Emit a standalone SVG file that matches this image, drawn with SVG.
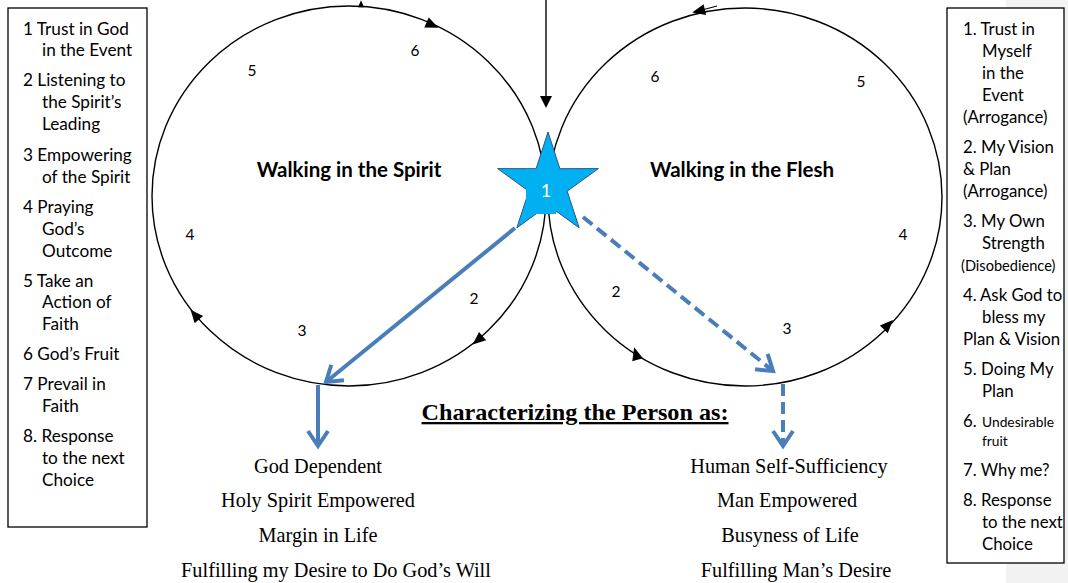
<svg xmlns="http://www.w3.org/2000/svg" xmlns:xlink="http://www.w3.org/1999/xlink" width="1068" height="583" viewBox="0 0 1068 583">
<style>
.box{fill:#fff;stroke:#000;stroke-width:1.3}
.lt{font-family:Lato,"Open Sans",sans-serif;font-size:17.2px;fill:#000}
.rt{font-size:16.8px}
.sm{font-size:14.6px}
.xs{font-size:13.8px}
.num{font-family:Lato,"Open Sans",sans-serif;font-size:15.5px;fill:#000;text-anchor:middle}
.ttl{font-family:Lato,"Open Sans",sans-serif;font-size:20.5px;font-weight:bold;fill:#000;text-anchor:middle}
.cyc{fill:none;stroke:#000;stroke-width:1.4}
.tr{font-family:"Liberation Serif","Times New Roman",serif;font-size:20.3px;fill:#000;text-anchor:middle}
.blue{fill:none;stroke:#4A7EBB;stroke-width:4}
.dash{stroke-dasharray:12 6}
</style>
<defs>
<path id="tri" d="M7,0 L-6,-5.5 L-6,5.5 Z" fill="#000"/>
<marker id="chev" markerUnits="userSpaceOnUse" orient="auto" refX="0" refY="0" markerWidth="40" markerHeight="40" overflow="visible">
<path d="M-15,-10 L0,0 L-15,10" fill="none" stroke="#4A7EBB" stroke-width="4"/>
</marker>
</defs>
<rect x="1006" y="0" width="62" height="583" fill="#F2F2F2"/>
<g id="spirit-legend">
<rect class="box" x="8" y="8" width="139" height="519"/>
<text class="lt">
<tspan x="23" y="35">1 Trust in God</tspan>
<tspan x="42" y="56">in the Event</tspan>
<tspan x="23" y="86">2 Listening to</tspan>
<tspan x="42" y="108">the Spirit’s</tspan>
<tspan x="42" y="130">Leading</tspan>
<tspan x="23" y="161">3 Empowering</tspan>
<tspan x="42" y="183">of the Spirit</tspan>
<tspan x="23" y="213">4 Praying</tspan>
<tspan x="42" y="235">God’s</tspan>
<tspan x="42" y="257">Outcome</tspan>
<tspan x="23" y="287">5 Take an</tspan>
<tspan x="42" y="308">Action of</tspan>
<tspan x="42" y="330">Faith</tspan>
<tspan x="23" y="360">6 God’s Fruit</tspan>
<tspan x="23" y="390">7 Prevail in</tspan>
<tspan x="42" y="412">Faith</tspan>
<tspan x="23" y="442">8. Response</tspan>
<tspan x="42" y="464">to the next</tspan>
<tspan x="42" y="486">Choice</tspan>
</text>
</g>
<g id="flesh-legend">
<rect class="box" x="947" y="8" width="117" height="555"/>
<text class="lt rt">
<tspan x="963" y="35">1. Trust in</tspan>
<tspan x="982" y="57">Myself</tspan>
<tspan x="982" y="79">in the</tspan>
<tspan x="982" y="101">Event</tspan>
<tspan x="963" y="123">(Arrogance)</tspan>
<tspan x="963" y="153">2. My Vision</tspan>
<tspan x="963" y="175">&amp; Plan</tspan>
<tspan x="963" y="197">(Arrogance)</tspan>
<tspan x="963" y="227">3. My Own</tspan>
<tspan x="982" y="249">Strength</tspan>
<tspan x="961" y="271" class="sm">(Disobedience)</tspan>
<tspan x="963" y="301">4.</tspan><tspan x="980" y="301">Ask God to</tspan>
<tspan x="982" y="323">bless my</tspan>
<tspan x="963" y="345">Plan &amp; Vision</tspan>
<tspan x="963" y="375">5.</tspan><tspan x="981" y="375">Doing My</tspan>
<tspan x="982" y="397">Plan</tspan>
<tspan x="963" y="427">6.</tspan><tspan class="xs" x="982" y="427">Undesirable</tspan>
<tspan x="982" y="446" class="xs">fruit</tspan>
<tspan x="963" y="476">7. Why me?</tspan>
<tspan x="963" y="506">8. Response</tspan>
<tspan x="982" y="528">to the next</tspan>
<tspan x="982" y="550">Choice</tspan>
</text>
</g>
<g id="spirit-cycle">
<ellipse class="cyc" cx="349" cy="196" rx="197" ry="190"/>
<use xlink:href="#tri" href="#tri" transform="translate(361,4) rotate(-90) scale(0.55)"/>
<use xlink:href="#tri" href="#tri" transform="translate(432,25) rotate(24)"/>
<use xlink:href="#tri" href="#tri" transform="translate(478,340) rotate(140)"/>
<use xlink:href="#tri" href="#tri" transform="translate(195,315) rotate(-130)"/>
<text class="num" x="415" y="56">6</text>
<text class="num" x="252" y="76">5</text>
<text class="num" x="190" y="240">4</text>
<text class="num" x="302" y="336">3</text>
<text class="num" x="474" y="304">2</text>
<text class="ttl" x="349" y="177">Walking in the Spirit</text>
</g>
<g id="flesh-cycle">
<ellipse class="cyc" cx="745" cy="197" rx="197" ry="189"/>
<use xlink:href="#tri" href="#tri" transform="translate(699,11) rotate(167)"/>
<line x1="717" y1="6" x2="702" y2="10" stroke="#000" stroke-width="1.2"/>
<use xlink:href="#tri" href="#tri" transform="translate(888,325) rotate(-46)"/>
<use xlink:href="#tri" href="#tri" transform="translate(636,354) rotate(-105)"/>
<text class="num" x="655" y="82">6</text>
<text class="num" x="861" y="87">5</text>
<text class="num" x="903" y="240">4</text>
<text class="num" x="787" y="334">3</text>
<text class="num" x="616" y="297">2</text>
<text class="ttl" x="742" y="177">Walking in the Flesh</text>
</g>
<g id="connectors">
<line x1="546" y1="0" x2="546" y2="98" stroke="#000" stroke-width="1.4"/>
<path d="M540,96 L552,96 L546,108 Z" fill="#000"/>
<line class="blue" x1="515" y1="228" x2="326" y2="382" marker-end="url(#chev)"/>
<line class="blue" x1="318" y1="385" x2="318" y2="446" marker-end="url(#chev)"/>
<line class="blue dash" x1="583" y1="217" x2="773" y2="371" marker-end="url(#chev)"/>
<line class="blue dash" x1="783" y1="384" x2="783" y2="446" marker-end="url(#chev)"/>
</g>
<g id="choice-star">
<polygon points="548,132 559.9,168.7 598.4,168.6 567.2,191.2 579.2,227.9 548,205.2 516.8,227.9 528.8,191.2 497.6,168.6 536.1,168.7" fill="#00B0F0" stroke="#2F528F" stroke-width="1"/>
<rect x="526" y="169" width="30" height="45" fill="#00B0F0"/>
<text x="546" y="197" font-family="Lato,'Open Sans',sans-serif" font-size="18" fill="#fff" text-anchor="middle">1</text>
</g>
<g id="heading">
<text x="575" y="420" font-family="'Liberation Serif','Times New Roman',serif" font-size="23" font-weight="bold" text-anchor="middle" text-decoration="underline" textLength="307" lengthAdjust="spacingAndGlyphs">Characterizing the Person as:</text>
</g>
<g id="spirit-traits">
<text class="tr" x="318" y="473">God Dependent</text>
<text class="tr" x="318" y="507">Holy Spirit Empowered</text>
<text class="tr" x="318" y="542">Margin in Life</text>
<text class="tr" x="336" y="577">Fulfilling my Desire to Do God’s Will</text>
</g>
<g id="flesh-traits">
<text class="tr" x="789" y="473">Human Self-Sufficiency</text>
<text class="tr" x="787" y="507">Man Empowered</text>
<text class="tr" x="790" y="542">Busyness of Life</text>
<text class="tr" x="796" y="577">Fulfilling Man’s Desire</text>
</g>
</svg>
